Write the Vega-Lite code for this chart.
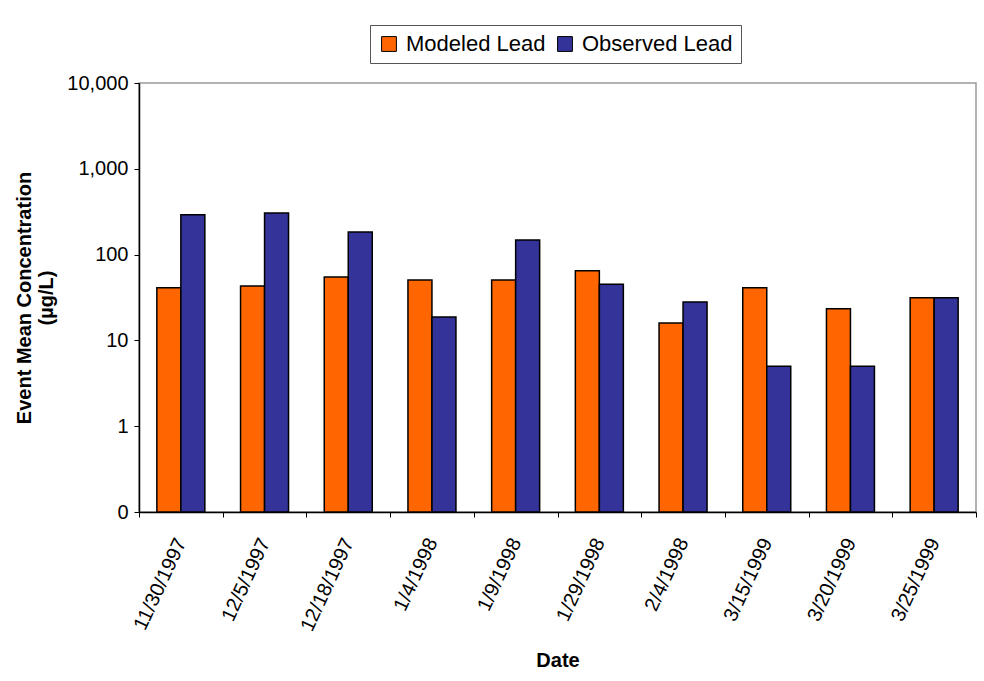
{
  "$schema": "https://vega.github.io/schema/vega-lite/v6.json",
  "autosize": "none",
  "width": 837,
  "height": 429,
  "padding": {"left": 139, "top": 83, "right": 8, "bottom": 169},
  "background": "white",
  "config": {
    "font": "Liberation Sans",
    "view": {"stroke": "#999999", "strokeWidth": 1.5},
    "axis": {"labelFont": "Liberation Sans", "titleFont": "Liberation Sans", "labelColor": "#000", "titleColor": "#000", "domainColor": "#000", "tickColor": "#000", "grid": false}
  },
  "data": {
    "values": [
      {"date": "11/30/1997", "series": "Modeled Lead", "value": 41},
      {"date": "11/30/1997", "series": "Observed Lead", "value": 292},
      {"date": "12/5/1997", "series": "Modeled Lead", "value": 43},
      {"date": "12/5/1997", "series": "Observed Lead", "value": 305},
      {"date": "12/18/1997", "series": "Modeled Lead", "value": 55},
      {"date": "12/18/1997", "series": "Observed Lead", "value": 183},
      {"date": "1/4/1998", "series": "Modeled Lead", "value": 50.5},
      {"date": "1/4/1998", "series": "Observed Lead", "value": 18.7},
      {"date": "1/9/1998", "series": "Modeled Lead", "value": 50.5},
      {"date": "1/9/1998", "series": "Observed Lead", "value": 148},
      {"date": "1/29/1998", "series": "Modeled Lead", "value": 65},
      {"date": "1/29/1998", "series": "Observed Lead", "value": 45},
      {"date": "2/4/1998", "series": "Modeled Lead", "value": 16},
      {"date": "2/4/1998", "series": "Observed Lead", "value": 28},
      {"date": "3/15/1999", "series": "Modeled Lead", "value": 41},
      {"date": "3/15/1999", "series": "Observed Lead", "value": 5},
      {"date": "3/20/1999", "series": "Modeled Lead", "value": 23.4},
      {"date": "3/20/1999", "series": "Observed Lead", "value": 5},
      {"date": "3/25/1999", "series": "Modeled Lead", "value": 31.5},
      {"date": "3/25/1999", "series": "Observed Lead", "value": 31.5}
    ]
  },
  "mark": {"type": "bar", "stroke": "#000000", "strokeWidth": 1.5},
  "encoding": {
    "x": {
      "field": "date",
      "type": "nominal",
      "sort": null,
      "scale": {"paddingInner": 0, "paddingOuter": 0},
      "axis": {
        "title": "Date",
        "titleFontSize": 20,
        "titleFontWeight": "bold",
        "titleY": 148,
        "titleBaseline": "middle",
        "labelFontSize": 20,
        "labelAngle": -65,
        "labelPadding": 22,
        "labelDx": 4,
        "tickBand": "extent",
        "tickSize": 5,
        "domainWidth": 1.5,
        "labelOverlap": false
      }
    },
    "xOffset": {
      "field": "series",
      "type": "nominal",
      "sort": ["Modeled Lead", "Observed Lead"],
      "scale": {"paddingInner": 0, "paddingOuter": 0.744}
    },
    "y": {
      "field": "value",
      "type": "quantitative",
      "scale": {"type": "log", "domain": [0.1, 10000], "nice": false},
      "axis": {
        "title": ["Event Mean Concentration", "(µg/L)"],
        "titleFontSize": 20,
        "titleFontWeight": "bold",
        "titlePadding": 10,
        "labelFontSize": 20,
        "labelPadding": 6,
        "tickSize": 5,
        "domainWidth": 1.5,
        "values": [0.1, 1, 10, 100, 1000, 10000],
        "labelExpr": "datum.value < 1 ? '0' : format(datum.value, ',')"
      }
    },
    "y2": {"datum": 0.1},
    "color": {
      "field": "series",
      "type": "nominal",
      "scale": {"domain": ["Modeled Lead", "Observed Lead"], "range": ["#FF6600", "#333399"]},
      "legend": {
        "title": null,
        "orient": "none",
        "legendX": 231,
        "legendY": -58,
        "direction": "horizontal",
        "labelFontSize": 22,
        "labelColor": "#000",
        "symbolType": "square",
        "symbolSize": 220,
        "symbolStrokeColor": "#000",
        "symbolStrokeWidth": 1,
        "symbolOpacity": 1,
        "strokeColor": "#555555",
        "padding": 8,
        "columnPadding": 8,
        "labelOffset": 6
      }
    }
  }
}
